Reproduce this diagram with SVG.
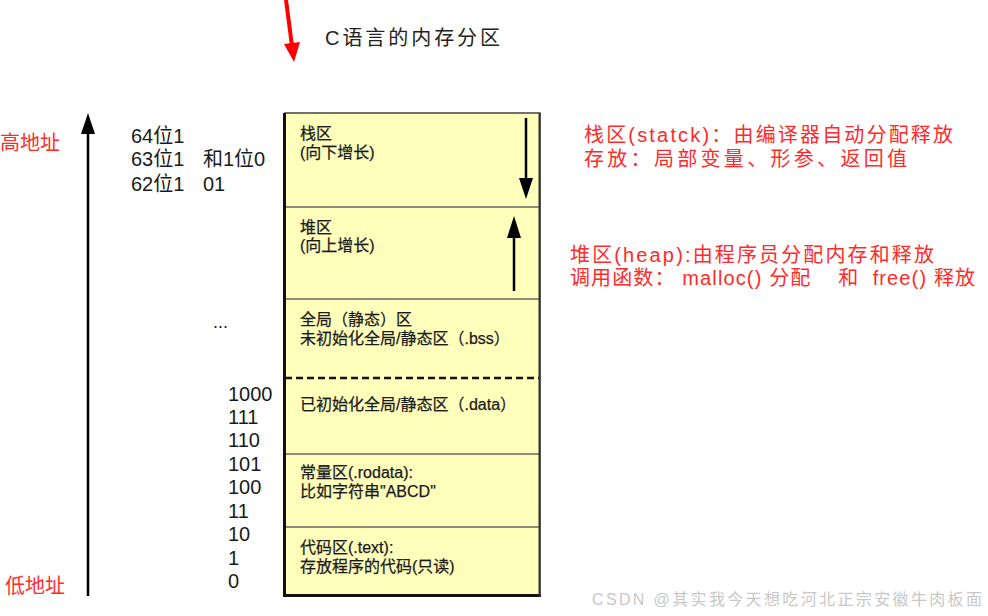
<svg xmlns="http://www.w3.org/2000/svg" width="988" height="616" viewBox="0 0 988 616">
<defs>
<style>
.cjk{font-family:"Liberation Sans","Noto Sans CJK SC",sans-serif;}
.red{fill:#ff2a2a;}
.num{fill:#1a1a1a;font-size:20px;}
.box{fill:#1a1a1a;font-size:16px;stroke:#1a1a1a;stroke-width:0.25;}
.div{stroke:#666;stroke-width:1.5;}
</style>
</defs>
<rect width="988" height="616" fill="#fff"/>

<g id="title" class="cjk">
<text x="325" y="45" font-size="20" fill="#222" textLength="175" lengthAdjust="spacing">C语言的内存分区</text>
</g>

<g id="memory">
<rect x="285" y="113" width="255" height="483" fill="#ffffbb" stroke="#444" stroke-width="1.5"/>
<line x1="285" y1="207" x2="540" y2="207" class="div"/>
<line x1="285" y1="299" x2="540" y2="299" class="div"/>
<line x1="285" y1="378" x2="540" y2="378" stroke="#111" stroke-width="2.5" stroke-dasharray="7,4"/>
<line x1="285" y1="454" x2="540" y2="454" class="div"/>
<line x1="285" y1="527" x2="540" y2="527" class="div"/>
<line x1="284.5" y1="113" x2="284.5" y2="597" stroke="#111" stroke-width="3"/>
<line x1="284" y1="595.5" x2="541" y2="595.5" stroke="#111" stroke-width="3"/>
<line x1="539.5" y1="113" x2="539.5" y2="597" stroke="#333" stroke-width="2"/>
</g>

<g id="stack" class="cjk box">
<text x="300" y="139">栈区</text>
<text x="300" y="158">(向下增长)</text>
</g>
<g id="heap" class="cjk box">
<text x="300" y="233">堆区</text>
<text x="300" y="251">(向上增长)</text>
</g>
<g id="bss" class="cjk box">
<text x="300" y="325">全局（静态）区</text>
<text x="300" y="344">未初始化全局/静态区（.bss）</text>
</g>
<g id="data" class="cjk box">
<text x="300" y="410">已初始化全局/静态区（.data）</text>
</g>
<g id="rodata" class="cjk box">
<text x="300" y="478">常量区(.rodata):</text>
<text x="300" y="497">比如字符串"ABCD"</text>
</g>
<g id="text" class="cjk box">
<text x="300" y="553">代码区(.text):</text>
<text x="300" y="572">存放程序的代码(只读)</text>
</g>

<g id="addr-labels" class="cjk">
<text x="0" y="150" font-size="20" class="red">高地址</text>
<text x="5" y="593" font-size="20" class="red">低地址</text>
</g>

<g id="bits" class="cjk num">
<text x="131" y="143">64位1</text>
<text x="131" y="166">63位1</text>
<text x="203" y="166">和1位0</text>
<text x="131" y="191">62位1</text>
<text x="203" y="191">01</text>
<text x="213" y="328" font-size="18">...</text>
<text x="228" y="401">1000</text>
<text x="228" y="424">111</text>
<text x="228" y="447">110</text>
<text x="228" y="471">101</text>
<text x="228" y="494">100</text>
<text x="228" y="518">11</text>
<text x="228" y="541">10</text>
<text x="228" y="565">1</text>
<text x="228" y="588">0</text>
</g>

<g id="notes" class="cjk red" font-size="20">
<text x="584" y="142" textLength="369" lengthAdjust="spacing">栈区(statck)：由编译器自动分配释放</text>
<text x="584" y="166" textLength="323" lengthAdjust="spacing">存放：局部变量、形参、返回值</text>
<text x="570" y="262" textLength="364" lengthAdjust="spacing">堆区(heap):由程序员分配内存和释放</text>
<text x="570" y="285" textLength="405" lengthAdjust="spacing" xml:space="preserve">调用函数： malloc() 分配    和  free() 释放</text>
</g>

<g id="watermark" class="cjk">
<text x="592" y="605" font-size="16" fill="#c8c8c8" textLength="390" lengthAdjust="spacing">CSDN @其实我今天想吃河北正宗安徽牛肉板面</text>
</g>

<g id="connectors">
<line x1="286" y1="0" x2="292" y2="46" stroke="#ff0000" stroke-width="4"/>
<polygon points="284,44 300,42 294,62" fill="#ff0000"/>
<line x1="88" y1="596" x2="88" y2="133" stroke="#000" stroke-width="2.5"/>
<polygon points="81,134 88,113 95,134" fill="#000"/>
<line x1="526" y1="118" x2="526" y2="180" stroke="#000" stroke-width="2.5"/>
<polygon points="519,178 526,199 533,178" fill="#000"/>
<line x1="514" y1="291" x2="514" y2="236" stroke="#000" stroke-width="2.5"/>
<polygon points="507,238 514,216 521,238" fill="#000"/>
</g>
</svg>
